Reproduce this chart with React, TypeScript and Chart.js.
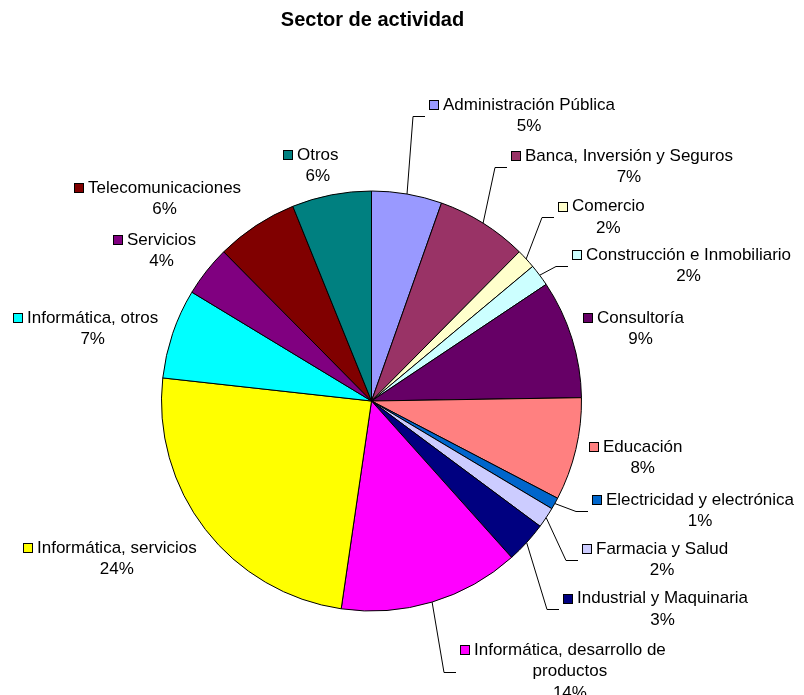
import { useEffect, useRef } from "react";
import { Chart, registerables } from "chart.js";

Chart.register(...registerables);

const chartTitle = "Sector de actividad";

const categories = [
  "Administración Pública",
  "Banca, Inversión y Seguros",
  "Comercio",
  "Construcción e Inmobiliario",
  "Consultoría",
  "Educación",
  "Electricidad y electrónica",
  "Farmacia y Salud",
  "Industrial y Maquinaria",
  "Informática, desarrollo de productos",
  "Informática, servicios",
  "Informática, otros",
  "Servicios",
  "Telecomunicaciones",
  "Otros",
];

const values = [5.4, 7.0, 1.5, 1.7, 9.1, 7.9, 0.9, 1.6, 3.2, 13.9, 24.4, 6.9, 3.9, 6.3, 6.1];

const colors = [
  "#9999FF",
  "#993366",
  "#FFFFCC",
  "#CCFFFF",
  "#660066",
  "#FF8080",
  "#0066CC",
  "#CCCCFF",
  "#000080",
  "#FF00FF",
  "#FFFF00",
  "#00FFFF",
  "#800080",
  "#800000",
  "#008080",
];

// label block anchor (left of key square, first line middle) relative to pie centre
const labelAnchors: [number, number][] = [
  [57.5, -296],
  [139.5, -245],
  [186.5, -194.5],
  [200.5, -146],
  [211.5, -83],
  [217.5, 46],
  [220.5, 99],
  [210.5, 148],
  [191.5, 197.5],
  [88.5, 249],
  [-348.5, 147],
  [-358.5, -83],
  [-258.5, -161],
  [-297.5, -213],
  [-88.5, -246],
];

const LABEL_FONT = '17px "Liberation Sans", Arial, sans-serif';
const TITLE_FONT = 'bold 20px "Liberation Sans", Arial, sans-serif';
const LINE_H = 21.5;
const WRAP_W = 230;

function wrap(ctx: CanvasRenderingContext2D, text: string, maxW: number): string[] {
  const words = text.split(" ");
  const lines: string[] = [];
  let cur = "";
  for (const w of words) {
    const t = cur ? cur + " " + w : w;
    if (cur && ctx.measureText(t).width > maxW) {
      lines.push(cur);
      cur = w;
    } else cur = t;
  }
  if (cur) lines.push(cur);
  return lines;
}

const labelPlugin = {
  id: "excelLabels",
  afterDatasetsDraw(chart: any) {
    const ctx: CanvasRenderingContext2D = chart.ctx;
    const meta = chart.getDatasetMeta(0);
    const data: number[] = chart.data.datasets[0].data;
    const total = data.reduce((a, b) => a + b, 0);
    ctx.save();
    let cx = 0;
    let cy = 0;
    meta.data.forEach((arc: any, i: number) => {
      const p = arc.getProps(["x", "y", "startAngle", "endAngle", "outerRadius"], true);
      cx = p.x;
      cy = p.y;
      const mid = (p.startAngle + p.endAngle) / 2;
      const rx = p.x + Math.cos(mid) * p.outerRadius;
      const ry = p.y + Math.sin(mid) * p.outerRadius;
      const [ax, ay] = labelAnchors[i];
      const sx = p.x + ax;
      const sy = p.y + ay;
      ctx.font = LABEL_FONT;
      const lines = wrap(ctx, chart.data.labels[i], WRAP_W);
      lines.push(Math.round((data[i] / total) * 100) + "%");
      const w1 = ctx.measureText(lines[0]).width;
      const tx = sx + 14;
      const tcx = tx + w1 / 2;
      const left = sx;
      const right = tx + w1;
      const top = sy - LINE_H / 2;
      const bottom = sy + (lines.length - 1) * LINE_H + LINE_H / 2;
      const dx = rx < left ? left - rx : rx > right ? rx - right : 0;
      const dy = ry < top ? top - ry : ry > bottom ? ry - bottom : 0;
      const dist = Math.hypot(dx, dy);
      if (dist > 20) {
        const by = sy + ((lines.length - 1) * LINE_H) / 2;
        ctx.beginPath();
        ctx.strokeStyle = "#000";
        ctx.lineWidth = 1;
        ctx.moveTo(rx, ry);
        ctx.lineTo(sx - 16, Math.round(by) + 0.5);
        ctx.lineTo(sx - 4, Math.round(by) + 0.5);
        ctx.stroke();
      }
      // key square
      const qx = Math.round(sx);
      const qy = Math.round(sy - 5);
      ctx.fillStyle = colors[i];
      ctx.fillRect(qx, qy, 10, 10);
      ctx.strokeStyle = "#000";
      ctx.lineWidth = 1;
      ctx.strokeRect(qx + 0.5, qy + 0.5, 9, 9);
      // text
      ctx.fillStyle = "#000";
      ctx.textBaseline = "middle";
      ctx.textAlign = "left";
      ctx.fillText(lines[0], tx, sy);
      ctx.textAlign = "center";
      for (let k = 1; k < lines.length; k++) {
        ctx.fillText(lines[k], tcx, sy + k * LINE_H);
      }
    });
    ctx.font = TITLE_FONT;
    ctx.fillStyle = "#000";
    ctx.textAlign = "center";
    ctx.textBaseline = "middle";
    ctx.fillText(chartTitle, cx + 1, 20.5);
    ctx.restore();
  },
};

export default function App() {
  const ref = useRef<HTMLCanvasElement | null>(null);
  useEffect(() => {
    if (!ref.current) return;
    const chart = new Chart(ref.current, {
      type: "pie",
      data: {
        labels: categories,
        datasets: [
          {
            data: values,
            backgroundColor: colors,
            borderColor: "#000",
            borderWidth: 1,
          },
        ],
      },
      options: {
        responsive: false,
        animation: false,
        radius: 210,
        layout: { padding: { left: 100, right: 161, top: 150, bottom: 43 } },
        plugins: {
          legend: { display: false },
          tooltip: { enabled: false },
          title: { display: false },
        },
      } as any,
      plugins: [labelPlugin],
    });
    return () => chart.destroy();
  }, []);
  return (
    <div style={{ position: "absolute", left: 0, top: 0, width: 804, height: 695, background: "#fff" }}>
      <canvas ref={ref} width={804} height={695} style={{ display: "block", width: 804, height: 695 }} />
    </div>
  );
}
